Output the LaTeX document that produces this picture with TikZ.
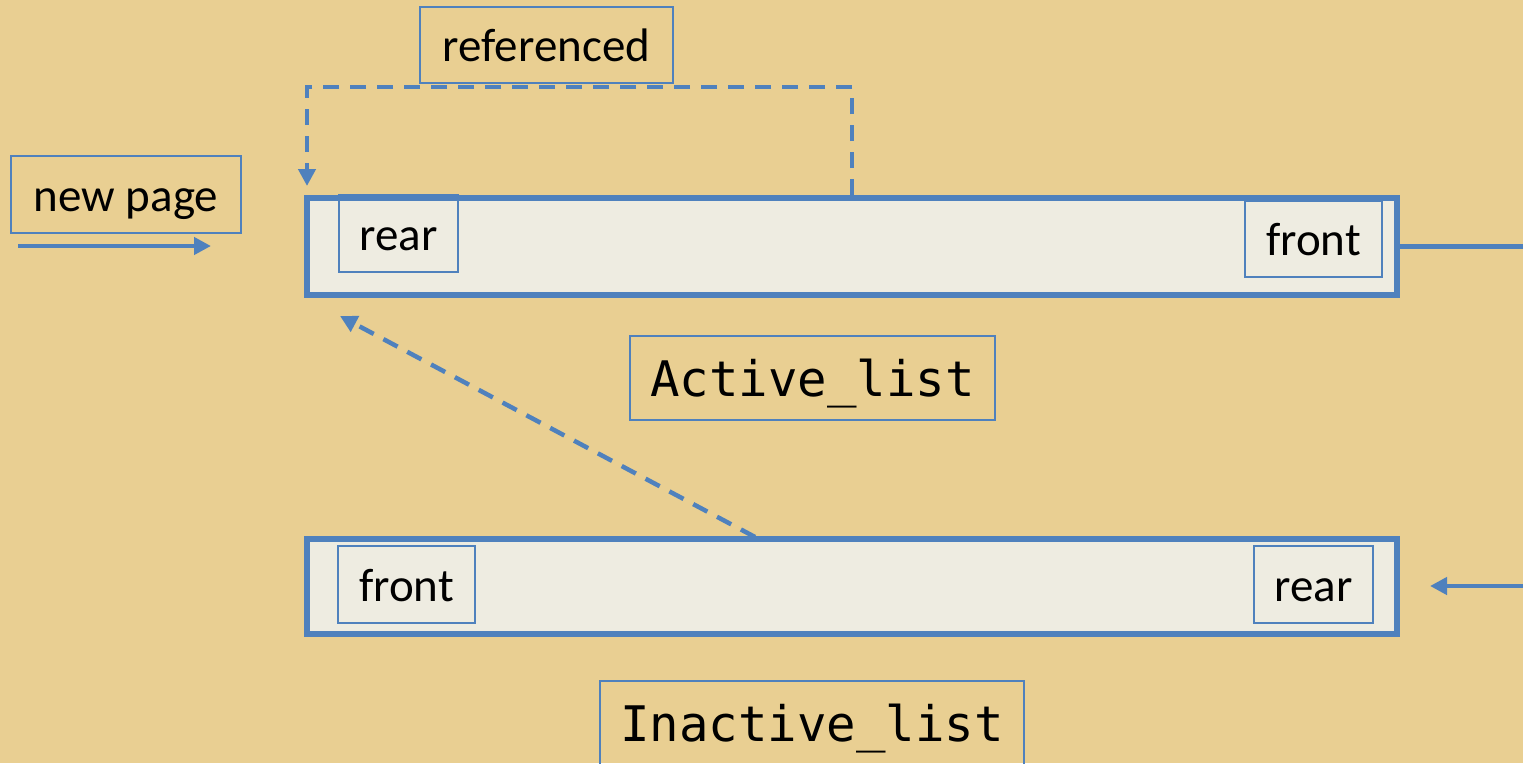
\documentclass[tikz,border=0pt]{standalone}
\usepackage{fontspec}
\setmainfont{Carlito}
\newfontfamily\monofam{DejaVu Sans Mono}
\usetikzlibrary{arrows.meta,calc}
\definecolor{bg}{RGB}{233,207,146}
\definecolor{lb}{RGB}{79,129,189}
\definecolor{boxfill}{RGB}{238,236,225}
\tikzset{
  lbl/.style={draw=lb, line width=2pt, inner sep=0pt, text=black, font=\fontsize{47}{56}\selectfont, text height=40pt, text depth=7pt},
  monolbl/.style={draw=lb, line width=2pt, inner sep=0pt, text=black, font=\monofam\fontsize{49}{56}\selectfont, text height=44pt, text depth=8pt},
  listbox/.style={draw=lb, line width=6pt, fill=boxfill, inner sep=0pt},
  conn/.style={draw=lb, line width=4.5pt},
  arr/.style={conn, -{Triangle[length=17pt,width=17pt]}},
  darr/.style={arr, dash pattern=on 16pt off 11pt},
}
\begin{document}
\begin{tikzpicture}[x=1pt,y=-1pt]
\useasboundingbox (0,0) rectangle (1523,763);
\fill[bg] (0,0) rectangle (1523,763);
\clip (0,0) rectangle (1523,763);

% list boxes
\node[listbox, minimum width=1090pt, minimum height=97pt] (active) at (852,246.5) {};
\node[listbox, minimum width=1090pt, minimum height=95pt] (inactive) at (852,586.5) {};

% labels
\node[lbl, minimum width=253pt, minimum height=76pt] (ref) at (546.5,45) {referenced};
\node[lbl, minimum width=230pt, minimum height=77pt] (newpage) at (126,194.5) {new page};
\node[lbl, minimum width=119pt, minimum height=77pt] (rearA) at (398.5,233.5) {rear};
\node[lbl, minimum width=137pt, minimum height=76pt] (frontA) at (1313.5,239) {front};
\node[monolbl, minimum width=365pt, minimum height=84pt] (actlabel) at (812.5,378) {Active\_list};
\node[lbl, minimum width=137pt, minimum height=77pt] (frontI) at (406.5,584.5) {front};
\node[lbl, minimum width=119pt, minimum height=77pt] (rearI) at (1313.5,584.5) {rear};
\node[monolbl, minimum width=424pt, minimum height=84pt] (inactlabel) at (812,723) {Inactive\_list};

% free ends
\coordinate (np1) at (18,246);
\coordinate (np2) at (211,246);
\coordinate (outR) at (1523,246.5);
\coordinate (inR) at (1523,586);
\coordinate (inL) at (1430,586);
\coordinate (refEnd) at (307,186);
\coordinate (diagStart) at (755,537);
\coordinate (diagEnd) at (340,316);

% connectors
\draw[arr] (np1) -- (np2);
\draw[conn] (active.east) -- (outR);
\draw[arr] (inR) -- (inL);
\draw[darr] (active.north) -- ++(0,-108) -| (refEnd);
\draw[darr] (diagStart) -- (diagEnd);
\end{tikzpicture}
\end{document}
